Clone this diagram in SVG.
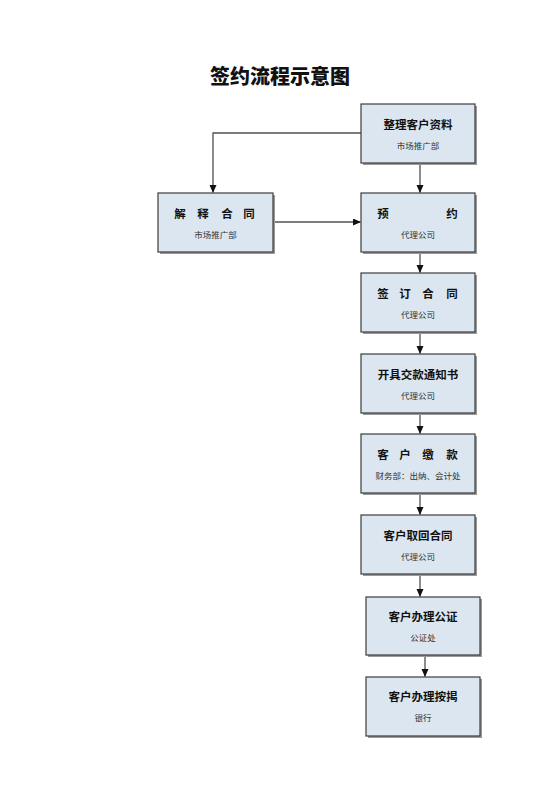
<svg xmlns="http://www.w3.org/2000/svg" width="560" height="792" viewBox="0 0 560 792">
<style>
.bg{fill:#ffffff}
.sh{fill:#9a9a9a}
.box{fill:#dce6f0;stroke:#3c3c3c;stroke-width:1.2}
.t{font-family:"Noto Sans CJK SC","Noto Sans CJK JP",sans-serif;font-weight:bold;font-size:11.5px;fill:#111;text-anchor:middle}
.s{font-family:"Noto Sans CJK SC","Noto Sans CJK JP",sans-serif;font-size:8.5px;fill:#333;text-anchor:middle}
.h{font-family:"Noto Sans CJK SC","Noto Sans CJK JP",sans-serif;font-weight:900;font-size:20px;fill:#111;text-anchor:middle}
.c{fill:none;stroke:#505050;stroke-width:1.3}
</style>
<defs>
<marker id="ar" markerWidth="8" markerHeight="8" refX="7.5" refY="3.5" orient="auto" markerUnits="userSpaceOnUse">
<path d="M0,0 L8,3.5 L0,7 Z" fill="#111"/>
</marker>
</defs>
<rect class="bg" x="0" y="0" width="560" height="792"/>
<text class="h" x="280" y="84">签约流程示意图</text>
<g id="connectors">
<path class="c" d="M361,133 H213 V192.5" marker-end="url(#ar)"/>
<path class="c" d="M420,163 V192.5" marker-end="url(#ar)"/>
<path class="c" d="M273,222 H360.5" marker-end="url(#ar)"/>
<path class="c" d="M420,252 V272.5" marker-end="url(#ar)"/>
<path class="c" d="M420,332 V353.5" marker-end="url(#ar)"/>
<path class="c" d="M420,413 V433.5" marker-end="url(#ar)"/>
<path class="c" d="M420,493 V514.5" marker-end="url(#ar)"/>
<path class="c" d="M420,574 V596.5" marker-end="url(#ar)"/>
<path class="c" d="M425,655 V676.5" marker-end="url(#ar)"/>
</g>
<g id="n1">
<rect class="sh" x="363" y="106" width="114" height="59"/>
<rect class="box" x="361" y="104" width="114" height="59"/>
<text class="t" x="418" y="129">整理客户资料</text>
<text class="s" x="418" y="149">市场推广部</text>
</g>
<g id="n2">
<rect class="sh" x="160" y="195" width="115" height="59"/>
<rect class="box" x="158" y="193" width="115" height="59"/>
<text class="t" x="180 203 227 249" y="218">解释合同</text>
<text class="s" x="215.5" y="238">市场推广部</text>
</g>
<g id="n3">
<rect class="sh" x="363" y="195" width="114" height="59"/>
<rect class="box" x="361" y="193" width="114" height="59"/>
<text class="t" x="383 452" y="218">预约</text>
<text class="s" x="418" y="238">代理公司</text>
</g>
<g id="n4">
<rect class="sh" x="363" y="275" width="114" height="59"/>
<rect class="box" x="361" y="273" width="114" height="59"/>
<text class="t" x="383 405 428 452" y="298">签订合同</text>
<text class="s" x="418" y="318">代理公司</text>
</g>
<g id="n5">
<rect class="sh" x="363" y="356" width="114" height="59"/>
<rect class="box" x="361" y="354" width="114" height="59"/>
<text class="t" x="418" y="379">开具交款通知书</text>
<text class="s" x="418" y="399">代理公司</text>
</g>
<g id="n6">
<rect class="sh" x="363" y="436" width="114" height="59"/>
<rect class="box" x="361" y="434" width="114" height="59"/>
<text class="t" x="383 405 428 452" y="459">客户缴款</text>
<text class="s" x="418" y="479">财务部：出纳、会计处</text>
</g>
<g id="n7">
<rect class="sh" x="363" y="517" width="114" height="59"/>
<rect class="box" x="361" y="515" width="114" height="59"/>
<text class="t" x="418" y="540">客户取回合同</text>
<text class="s" x="418" y="560">代理公司</text>
</g>
<g id="n8">
<rect class="sh" x="368" y="599" width="114" height="58"/>
<rect class="box" x="366" y="597" width="114" height="58"/>
<text class="t" x="423" y="621">客户办理公证</text>
<text class="s" x="423" y="641">公证处</text>
</g>
<g id="n9">
<rect class="sh" x="368" y="679" width="114" height="59"/>
<rect class="box" x="366" y="677" width="114" height="59"/>
<text class="t" x="423" y="701">客户办理按揭</text>
<text class="s" x="423" y="721">银行</text>
</g>
</svg>
